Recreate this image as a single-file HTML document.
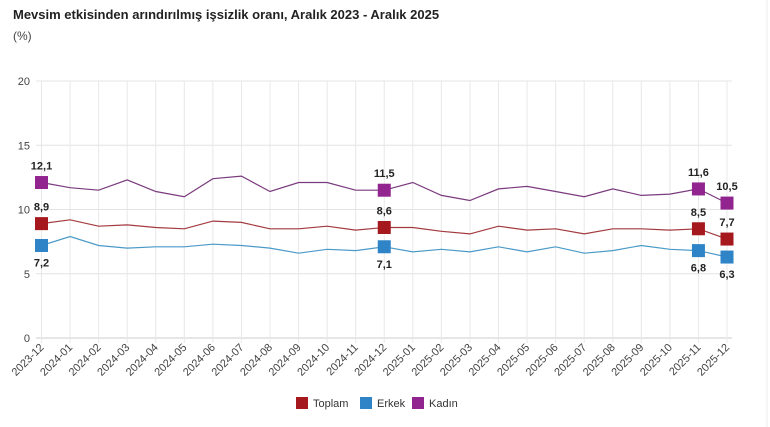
<!DOCTYPE html>
<html><head><meta charset="utf-8"><style>
html,body{margin:0;padding:0;background:#fff;width:770px;height:427px;overflow:hidden;font-family:"Liberation Sans",sans-serif}
</style></head><body>
<svg id="s" width="770" height="427" xmlns="http://www.w3.org/2000/svg" font-family="Liberation Sans, sans-serif">
<text x="13" y="19" font-size="13" font-weight="bold" fill="#222">Mevsim etkisinden arındırılmış işsizlik oranı, Aralık 2023 - Aralık 2025</text>
<text x="13" y="40" font-size="12" fill="#444">(%)</text>
<line x1="767" y1="0" x2="767" y2="427" stroke="#eee"/>
</svg>
<script>
var s=document.getElementById('s'),NS='http://www.w3.org/2000/svg';
function el(t,a,txt){var e=document.createElementNS(NS,t);for(var k in a)e.setAttribute(k,a[k]);if(txt!=null)e.textContent=txt;s.appendChild(e);return e;}
var x0=41.5,dx=(727-41.5)/24,y0=338,sc=(338-81)/20;
function X(i){return x0+i*dx}function Y(v){return y0-v*sc}
for(var v=0;v<=20;v+=5){el('line',{x1:36,x2:732,y1:Y(v),y2:Y(v),stroke:v==0?'#ccc':'#e4e4e4'});el('text',{x:30,y:Y(v)+4,'font-size':11,fill:'#444','text-anchor':'end'},v);}
var labs=[];for(var i=0;i<25;i++){var y=2023+Math.floor((i+11)/12),m=(i+11)%12+1;labs.push(y+'-'+(m<10?'0':'')+m);}
for(var i=0;i<25;i++){el('line',{x1:X(i),x2:X(i),y1:Y(20),y2:y0+5,stroke:'#e8e8e8'});
el('text',{x:X(i)+3,y:y0+10,'font-size':11,fill:'#444','text-anchor':'end',transform:'rotate(-45 '+(X(i)+3)+' '+(y0+10)+')'},labs[i]);}
var K=[12.1,11.7,11.5,12.3,11.4,11.0,12.4,12.6,11.4,12.1,12.1,11.5,11.5,12.1,11.1,10.7,11.6,11.8,11.4,11.0,11.6,11.1,11.2,11.6,10.5];
var T=[8.9,9.2,8.7,8.8,8.6,8.5,9.1,9.0,8.5,8.5,8.7,8.4,8.6,8.6,8.3,8.1,8.7,8.4,8.5,8.1,8.5,8.5,8.4,8.5,7.7];
var E=[7.2,7.9,7.2,7.0,7.1,7.1,7.3,7.2,7.0,6.6,6.9,6.8,7.1,6.7,6.9,6.7,7.1,6.7,7.1,6.6,6.8,7.2,6.9,6.8,6.3];
var ser=[[T,'#a5181d','#a33a3e',-1],[E,'#2e84c6','#4a9ac8',1],[K,'#92248f','#7a3a7e',-1]];
ser.forEach(function(q){var d=q[0],p='';d.forEach(function(v,i){p+=(i?'L':'M')+X(i).toFixed(1)+' '+Y(v).toFixed(1)});
el('path',{d:p,fill:'none',stroke:q[2],'stroke-width':1.2});
[0,12,23,24].forEach(function(i){el('rect',{x:X(i)-6.5,y:Y(d[i])-6.5,width:13,height:13,fill:q[1]});
el('text',{x:X(i),y:q[3]<0?Y(d[i])-13:Y(d[i])+21,'font-size':11,'font-weight':'bold',fill:'#222','text-anchor':'middle'},d[i].toFixed(1).replace('.',','));});});
var lg=[['Toplam','#a5181d',296],['Erkek','#2e84c6',360],['Kadın','#92248f',412]];
lg.forEach(function(l){el('rect',{x:l[2],y:397,width:12,height:12,fill:l[1]});el('text',{x:l[2]+17,y:407,'font-size':11,fill:'#333'},l[0]);});
</script>
</body></html>
